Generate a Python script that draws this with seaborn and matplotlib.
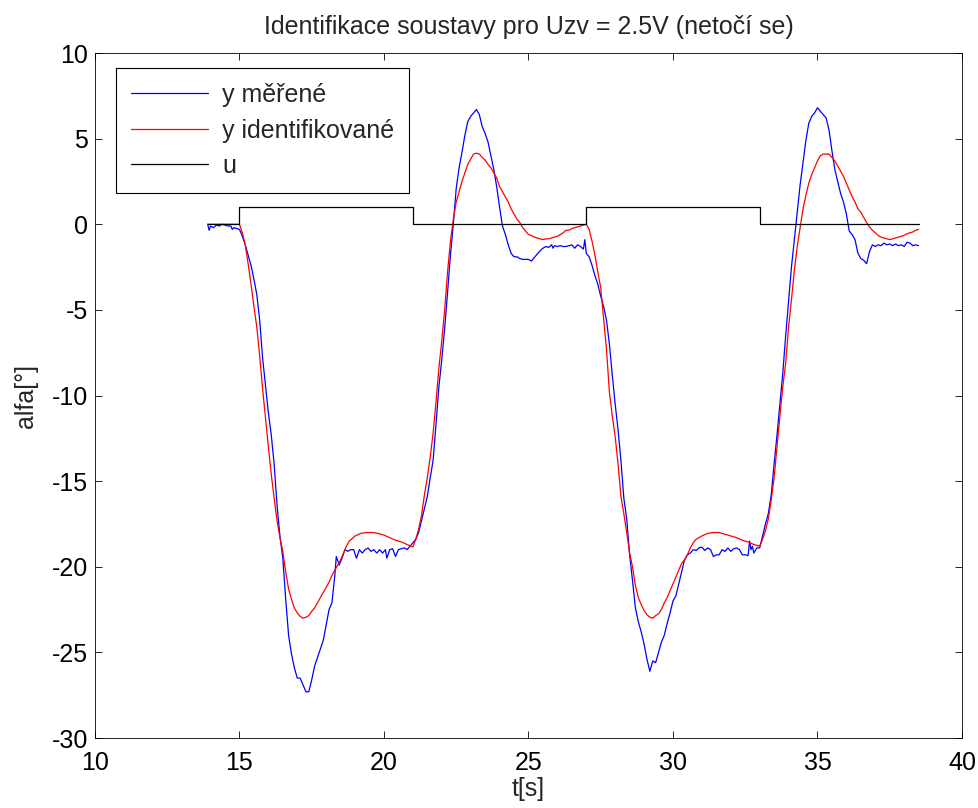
import numpy as np
import pandas as pd
import seaborn as sns
import matplotlib.pyplot as plt

# y merene (mereni)
t_mer = [13.9, 13.95, 14.0, 14.1, 14.2, 14.3, 14.4, 14.5, 14.6, 14.7, 14.75, 14.8, 14.9, 15.0,
         15.1, 15.2, 15.3, 15.4, 15.5, 15.6, 15.7, 15.8, 15.9, 16.0, 16.1, 16.2, 16.3, 16.4, 16.5,
         16.6, 16.7, 16.8, 16.9, 17.0, 17.1, 17.2, 17.3, 17.4, 17.5, 17.6, 17.7, 17.8, 17.9, 18.0,
         18.1, 18.2, 18.3, 18.35, 18.45, 18.55, 18.65, 18.75, 18.85, 18.95, 19.05, 19.15, 19.25,
         19.35, 19.45, 19.55, 19.65, 19.75, 19.85, 19.95, 20.05, 20.1, 20.2, 20.3, 20.4, 20.5, 20.6,
         20.7, 20.8, 20.9, 21.0, 21.1, 21.2, 21.3, 21.4, 21.5, 21.6, 21.7, 21.8, 21.9, 22.0, 22.1,
         22.2, 22.3, 22.4, 22.5, 22.6, 22.7, 22.8, 22.9, 23.0, 23.1, 23.2, 23.3, 23.4, 23.5, 23.6,
         23.7, 23.8, 23.9, 24.0, 24.1, 24.2, 24.3, 24.4, 24.5, 24.6, 24.7, 24.8, 24.9, 25.0, 25.1,
         25.2, 25.3, 25.4, 25.5, 25.6, 25.7, 25.8, 25.85, 25.9, 26.0, 26.1, 26.2, 26.3, 26.4, 26.5,
         26.6, 26.7, 26.8, 26.9, 26.95, 27.0, 27.1, 27.2, 27.3, 27.4, 27.5, 27.6, 27.7, 27.8, 27.9,
         28.0, 28.1, 28.2, 28.3, 28.4, 28.5, 28.6, 28.7, 28.8, 28.9, 29.0, 29.1, 29.2, 29.25, 29.3,
         29.4, 29.5, 29.6, 29.7, 29.8, 29.9, 30.0, 30.1, 30.2, 30.3, 30.4, 30.5, 30.6, 30.7, 30.8,
         30.9, 31.0, 31.1, 31.2, 31.3, 31.4, 31.5, 31.6, 31.7, 31.8, 31.9, 32.0, 32.1, 32.2, 32.3,
         32.4, 32.5, 32.6, 32.65, 32.7, 32.75, 32.8, 32.9, 33.0, 33.1, 33.2, 33.3, 33.4, 33.5, 33.6,
         33.7, 33.8, 33.9, 34.0, 34.1, 34.2, 34.3, 34.4, 34.5, 34.6, 34.7, 34.8, 34.9, 35.0, 35.1,
         35.2, 35.3, 35.4, 35.5, 35.6, 35.7, 35.8, 35.9, 36.0, 36.1, 36.2, 36.3, 36.4, 36.5, 36.6,
         36.7, 36.8, 36.9, 37.0, 37.1, 37.2, 37.3, 37.4, 37.5, 37.6, 37.7, 37.8, 37.9, 38.0, 38.1,
         38.2, 38.3, 38.4, 38.5]
y_mer = [0.0, -0.35, -0.1, -0.2, -0.05, -0.1, 0.0, -0.05, -0.1, -0.1, -0.3, -0.2, -0.25, -0.3,
         -0.7, -1.2, -1.8, -2.4, -3.2, -4.1, -5.6, -7.8, -9.4, -11.0, -12.3, -14.0, -16.4, -18.2, -19.5,
         -21.9, -24.0, -25.1, -25.9, -26.5, -26.5, -26.9, -27.3, -27.3, -26.6, -25.8, -25.3, -24.8, -24.3, -23.4,
         -22.5, -22.1, -20.5, -19.4, -19.9, -19.5, -19.0, -19.1, -19.0, -19.0, -19.5, -19.0, -19.2,
         -19.0, -18.9, -19.1, -19.0, -19.2, -19.0, -19.2, -19.0, -19.5, -19.0, -18.95, -19.4, -19.0, -18.95,
         -18.9, -19.0, -18.8, -18.6, -18.4, -18.0, -17.3, -16.6, -15.9, -14.8, -13.8, -11.7, -9.5, -7.9, -6.1,
         -4.0, -1.8, 0.0, 2.1, 3.3, 4.2, 5.2, 6.0, 6.3, 6.5, 6.7, 6.4, 5.7, 5.3, 4.8,
         4.0, 3.2, 2.2, 1.0, -0.1, -0.6, -1.2, -1.7, -1.9, -1.9, -2.0, -2.05, -2.05, -2.05, -2.15,
         -1.95, -1.75, -1.55, -1.4, -1.3, -1.35, -1.2, -1.4, -1.25, -1.3, -1.25, -1.3, -1.3, -1.25, -1.2,
         -1.4, -1.2, -1.3, -1.45, -0.9, -1.7, -1.9, -2.4, -3.0, -3.5, -4.2, -4.8, -5.6, -7.0, -8.8,
         -10.5, -12.0, -13.8, -16.0, -17.2, -19.3, -20.8, -22.4, -23.2, -23.8, -24.5, -25.4, -26.1, -25.8, -25.5,
         -25.6, -25.0, -24.4, -24.0, -23.3, -22.7, -22.0, -21.7, -21.0, -20.3, -19.6, -19.3, -19.2, -19.0, -19.05,
         -18.9, -18.85, -19.05, -18.9, -19.0, -19.4, -19.3, -19.3, -19.0, -19.1, -18.9, -19.1, -18.95, -18.9, -19.0,
         -19.3, -19.3, -19.35, -18.5, -19.0, -18.8, -19.2, -18.9, -18.9, -18.2, -17.5, -16.9, -15.8, -14.0, -12.3,
         -10.5, -8.7, -6.5, -4.5, -2.5, -0.9, 0.7, 2.3, 3.6, 4.9, 5.9, 6.3, 6.5, 6.8, 6.6,
         6.4, 6.2, 5.5, 4.3, 3.2, 2.5, 1.8, 1.3, 0.6, -0.4, -0.6, -0.9, -1.7, -2.0, -2.1,
         -2.3, -1.6, -1.2, -1.3, -1.2, -1.25, -1.1, -1.2, -1.15, -1.25, -1.15, -1.25, -1.2, -1.3, -1.05,
         -1.1, -1.25, -1.2, -1.25]

# y identifikovane (model)
t_id = [13.9, 15.0, 15.1, 15.2, 15.3, 15.4, 15.5, 15.6, 15.7, 15.8, 15.9, 16.0, 16.1, 16.2, 16.3,
        16.4, 16.5, 16.6, 16.7, 16.8, 16.9, 17.0, 17.1, 17.2, 17.3, 17.4, 17.5, 17.6, 17.7, 17.8,
        17.9, 18.0, 18.1, 18.2, 18.3, 18.4, 18.5, 18.6, 18.7, 18.8, 18.9, 19.0, 19.2, 19.4, 19.6,
        19.8, 20.0, 20.2, 20.4, 20.6, 20.8, 21.0, 21.1, 21.2, 21.3, 21.4, 21.5, 21.6, 21.7, 21.8,
        21.9, 22.0, 22.1, 22.2, 22.3, 22.4, 22.5, 22.6, 22.7, 22.8, 22.9, 23.0, 23.1, 23.2, 23.3,
        23.4, 23.5, 23.6, 23.7, 23.8, 23.9, 24.0, 24.1, 24.2, 24.3, 24.4, 24.5, 24.6, 24.7, 24.8,
        24.9, 25.0, 25.1, 25.2, 25.3, 25.4, 25.5, 25.6, 25.7, 25.8, 25.9, 26.0, 26.1, 26.2, 26.3,
        26.4, 26.5, 26.6, 26.7, 26.8, 26.9, 27.0, 27.1, 27.2, 27.3, 27.4, 27.5, 27.6, 27.7, 27.8,
        27.9, 28.0, 28.1, 28.2, 28.3, 28.4, 28.5, 28.6, 28.7, 28.8, 28.9, 29.0, 29.1, 29.2, 29.3,
        29.4, 29.5, 29.6, 29.7, 29.8, 29.9, 30.0, 30.1, 30.2, 30.3, 30.4, 30.5, 30.6, 30.7, 30.8,
        31.0, 31.2, 31.4, 31.6, 31.8, 32.0, 32.2, 32.4, 32.6, 32.8, 33.0, 33.1, 33.2, 33.3, 33.4,
        33.5, 33.6, 33.7, 33.8, 33.9, 34.0, 34.1, 34.2, 34.3, 34.4, 34.5, 34.6, 34.7, 34.8, 34.9,
        35.0, 35.1, 35.2, 35.3, 35.4, 35.5, 35.6, 35.7, 35.8, 35.9, 36.0, 36.1, 36.2, 36.3, 36.4,
        36.5, 36.6, 36.7, 36.8, 36.9, 37.0, 37.1, 37.2, 37.3, 37.4, 37.5, 37.6, 37.7, 37.8, 37.9,
        38.0, 38.1, 38.2, 38.3, 38.4, 38.5]
y_id = [0.0, 0.0, -0.5, -1.2, -2.3, -3.5, -4.8, -6.0, -7.7, -9.6, -11.3, -13.0, -14.6, -16.0, -17.3,
        -18.3, -19.1, -20.3, -21.3, -21.9, -22.4, -22.7, -22.9, -23.0, -22.95, -22.85, -22.6, -22.4, -22.1, -21.8,
        -21.5, -21.2, -20.9, -20.5, -20.2, -19.9, -19.6, -19.2, -18.8, -18.5, -18.35, -18.2, -18.05, -18.0, -18.0,
        -18.05, -18.15, -18.3, -18.45, -18.55, -18.7, -18.85, -18.4, -17.8, -17.0, -15.8, -14.8, -13.6, -12.2, -10.4,
        -8.4, -6.8, -5.0, -2.8, -1.0, 0.3, 1.3, 1.9, 2.5, 3.0, 3.5, 3.8, 4.1, 4.15, 4.1,
        3.9, 3.75, 3.5, 3.3, 3.0, 2.7, 2.2, 1.9, 1.6, 1.3, 0.9, 0.6, 0.3, 0.1, -0.2,
        -0.4, -0.6, -0.65, -0.75, -0.8, -0.85, -0.9, -0.85, -0.85, -0.8, -0.75, -0.7, -0.6, -0.5, -0.35,
        -0.35, -0.25, -0.2, -0.15, -0.1, -0.05, 0.0, -0.3, -1.0, -1.8, -2.8, -3.7, -5.5, -7.3, -9.8,
        -11.2, -12.4, -14.0, -15.9, -16.9, -18.0, -19.2, -20.0, -21.1, -21.8, -22.2, -22.55, -22.8, -22.95, -23.0,
        -22.85, -22.75, -22.5, -22.1, -21.8, -21.4, -21.0, -20.6, -20.2, -19.8, -19.6, -19.3, -18.9, -18.6, -18.4,
        -18.2, -18.05, -18.0, -18.0, -18.1, -18.2, -18.3, -18.45, -18.55, -18.7, -18.8, -18.4, -17.9, -17.2, -16.1,
        -14.8, -13.0, -11.2, -9.5, -8.1, -6.0, -4.4, -2.7, -1.3, -0.2, 0.9, 1.7, 2.4, 2.9, 3.3,
        3.7, 4.0, 4.1, 4.1, 4.1, 3.9, 3.7, 3.4, 3.1, 2.8, 2.4, 2.0, 1.6, 1.3, 0.9,
        0.7, 0.4, 0.1, -0.15, -0.35, -0.5, -0.65, -0.75, -0.8, -0.85, -0.9, -0.85, -0.8, -0.75, -0.7,
        -0.65, -0.55, -0.5, -0.45, -0.35, -0.3]

# vstup u (skoky)
t_u = [13.9, 15.0, 21.0, 27.0, 33.0, 38.5]
u = [0, 1, 0, 1, 0, 0]

sns.set_style('ticks')
plt.rcParams['font.family'] = ['Liberation Sans', 'DejaVu Sans']
plt.rcParams['axes.unicode_minus'] = False

fig = plt.figure(figsize=(9.79, 8.08), dpi=100)
ax = fig.add_axes([0.097, 0.0866, 0.8856, 0.8478])

sns.lineplot(x=t_mer, y=y_mer, color='#0000ff', lw=0.9, sort=False, estimator=None,
             label='y měřené', ax=ax)
sns.lineplot(x=t_id, y=y_id, color='#ff0000', lw=0.9, sort=False, estimator=None,
             label='y identifikované', ax=ax)
sns.lineplot(x=t_u, y=u, color='black', lw=0.9, sort=False, estimator=None,
             drawstyle='steps-post', label='u', ax=ax)

ax.set_xlim(10, 40)
ax.set_ylim(-30, 10)
ax.set_xticks(np.arange(10, 41, 5))
ax.set_yticks(np.arange(-30, 11, 5))
ax.tick_params(direction='in', top=True, right=True, length=5, width=0.6,
               labelsize=18, colors='black', pad=5)
ax.tick_params(axis='x', pad=9)
for s in ax.spines.values():
    s.set_visible(True)
    s.set_linewidth(0.6)
    s.set_color('black')

ax.set_title('Identifikace soustavy pro Uzv = 2.5V (netočí se)', fontsize=18, pad=14)
ax.set_xlabel('t[s]', fontsize=18, labelpad=2)
ax.set_ylabel('alfa[°]', fontsize=18, labelpad=10)

leg = ax.legend(loc='upper left', fontsize=18, frameon=True, fancybox=False,
                edgecolor='black', framealpha=1, handlelength=3.1, handletextpad=0.55,
                borderpad=0.6, labelspacing=0.46, bbox_to_anchor=(0.024, 0.978),
                borderaxespad=0)
leg.get_frame().set_linewidth(0.8)

fig.savefig('out.png', dpi=100)
